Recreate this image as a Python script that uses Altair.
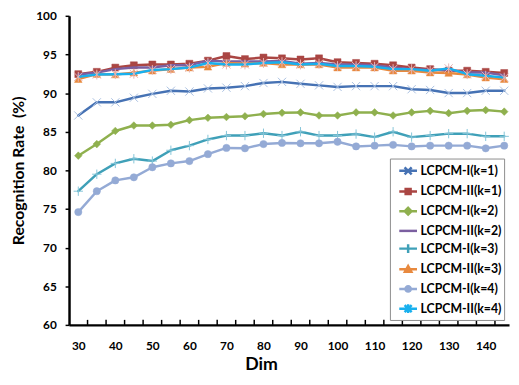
import altair as alt
import pandas as pd

dims = list(range(30, 150, 5))
names = ["LCPCM-I(k=1)", "LCPCM-II(k=1)", "LCPCM-I(k=2)", "LCPCM-II(k=2)",
         "LCPCM-I(k=3)", "LCPCM-II(k=3)", "LCPCM-I(k=4)", "LCPCM-II(k=4)"]

i_k1 = [87.1, 88.8, 88.8, 89.4, 89.9, 90.3, 90.2, 90.6, 90.7, 90.9, 91.3, 91.45,
        91.2, 91.0, 90.8, 90.9, 90.9, 90.9, 90.5, 90.4, 90.0, 90.0, 90.3, 90.3]
ii_k1 = [92.45, 92.75, 93.3, 93.6, 93.7, 93.7, 93.8, 94.2, 94.8, 94.4, 94.6, 94.5,
         94.35, 94.5, 94.0, 93.9, 93.8, 93.6, 93.3, 93.1, 92.9, 92.9, 92.75, 92.6]
i_k2 = [81.9, 83.4, 85.1, 85.8, 85.8, 85.9, 86.5, 86.8, 86.9, 87.0, 87.3, 87.45,
        87.5, 87.1, 87.1, 87.5, 87.5, 87.1, 87.5, 87.7, 87.4, 87.7, 87.8, 87.6]
ii_k2 = [92.4, 92.65, 93.1, 93.3, 93.3, 93.6, 93.6, 94.2, 94.1, 94.1, 94.1, 94.15,
         93.8, 93.9, 93.7, 93.7, 93.6, 93.3, 93.1, 93.0, 93.0, 92.65, 92.65, 92.3]
i_k3 = [77.3, 79.5, 80.9, 81.5, 81.2, 82.6, 83.2, 84.0, 84.5, 84.5, 84.8, 84.5,
        85.0, 84.5, 84.5, 84.7, 84.3, 85.0, 84.3, 84.5, 84.75, 84.75, 84.4, 84.4]
ii_k3 = [91.8, 92.45, 92.4, 92.65, 92.9, 93.1, 93.3, 93.4, 93.9, 93.8, 93.9, 93.7,
         93.7, 93.7, 93.3, 93.3, 93.3, 92.9, 92.9, 92.65, 92.6, 92.4, 92.0, 91.8]
i_k4 = [74.6, 77.3, 78.7, 79.1, 80.4, 80.9, 81.2, 82.1, 82.9, 82.85, 83.4, 83.55,
        83.5, 83.5, 83.7, 83.1, 83.2, 83.3, 83.1, 83.2, 83.2, 83.2, 82.85, 83.2]
ii_k4 = [92.1, 92.4, 92.45, 92.5, 93.0, 93.1, 93.3, 93.9, 93.7, 93.7, 93.9, 94.0,
         93.7, 93.8, 93.5, 93.5, 93.4, 93.1, 93.1, 92.9, 93.2, 92.45, 92.25, 92.0]
series_values = [i_k1, ii_k1, i_k2, ii_k2, i_k3, ii_k3, i_k4, ii_k4]

x_label_values = list(range(30, 150, 10))
x_tick_values = [d + 2.5 for d in dims[:-1]]
y_tick_values = list(range(60, 101, 5))
y_title = "Recognition Rate \u00a0(%)"
x_title = "Dim"

# styles
line_colors = ["#4672B4", "#AA4643", "#8FB04E", "#7B5FA0",
               "#3FA0B8", "#E8893E", "#94AAD5", "#18B0EE"]
marker_colors = ["#A9C0E0", "#AA4643", "#8FB04E", None,
                 "#86C5D8", "#E8893E", "#94AAD5", "#E8B4B4"]
X_PATH = "M-1,-1L1,1M-1,1L1,-1"
PLUS_PATH = "M0,-1V1M-1,0H1"
AST_PATH = "M-1,-1L1,1M-1,1L1,-1M0,-1.2V1.2"
marker_shapes = [X_PATH, "square", "diamond", None, PLUS_PATH, "triangle-up", "circle", AST_PATH]
marker_filled = [False, True, True, False, False, True, True, False]
marker_sizes = [70, 50, 60, 0, 90, 60, 55, 70]

LINE = "M-1,0H1"
legend_paths = [
    LINE + "M-0.4,-0.4L0.4,0.4M-0.4,0.4L0.4,-0.4",
    LINE + "M-0.28,-0.28H0.28V0.28H-0.28Z",
    LINE + "M0,-0.38L0.38,0L0,0.38L-0.38,0Z",
    LINE,
    LINE + "M0,-0.5V0.5",
    LINE + "M0,-0.36L0.36,0.28H-0.36Z",
    LINE + "M-0.3,0A0.3,0.3 0 1,0 0.3,0A0.3,0.3 0 1,0 -0.3,0Z",
    LINE + "M-0.4,-0.4L0.4,0.4M-0.4,0.4L0.4,-0.4M0,-0.5V0.5",
]
legend_fills = ["transparent", "#AA4643", "#8FB04E", "transparent",
                "transparent", "#E8893E", "#94AAD5", "transparent"]

rows = []
for name, vals in zip(names, series_values):
    for d, v in zip(dims, vals):
        rows.append({"dim": d, "rate": v, "series": name})
df = pd.DataFrame(rows)
ticks_df = pd.DataFrame({"pos": x_tick_values})

FONT = "Lato"
xscale = alt.Scale(domain=[27.5, 146.3], nice=False, zero=False)
yscale = alt.Scale(domain=[60, 100], nice=False, zero=False)

base = alt.Chart(df)

x_bottom = alt.Axis(orient="bottom", values=x_label_values, ticks=False, tickSize=0,
                    grid=False, domain=True, domainColor="black", domainWidth=2.5,
                    labelFont=FONT, labelFontSize=12, labelFontWeight="bold",
                    labelColor="black", labelBaseline="alphabetic", labelPadding=25,
                    title=x_title, titleFont=FONT, titleFontSize=18, titleFontWeight="bold",
                    titleColor="black", titleX=195, titleY=45, titleBaseline="alphabetic",
                    titleAlign="center", format="d")
y_left = alt.Axis(orient="left", values=y_tick_values, grid=False,
                  domain=True, domainColor="black", domainWidth=2.5,
                  ticks=True, tickSize=4, tickColor="black", tickWidth=1.5,
                  labelFont=FONT, labelFontSize=12, labelFontWeight="bold",
                  labelColor="black", labelPadding=9,
                  title=y_title, titleFont=FONT, titleFontSize=16,
                  titleFontWeight="bold", titleColor="black", titleAngle=-90,
                  titleX=-46, titleY=157, titleAlign="center", titleBaseline="alphabetic")

layers = []
# axis layer (invisible)
layers.append(base.mark_point(opacity=0).encode(
    x=alt.X("dim:Q", scale=xscale, axis=x_bottom),
    y=alt.Y("rate:Q", scale=yscale, axis=y_left)))

# inward minor ticks on the x axis
layers.append(alt.Chart(ticks_df).mark_rule(color="black", strokeWidth=1.5).encode(
    x=alt.X("pos:Q", scale=xscale, axis=None),
    y=alt.datum(60, scale=yscale, axis=None),
    y2=alt.datum(60.65)))

for i, name in enumerate(names):
    sub = base.transform_filter(alt.datum.series == name)
    layers.append(sub.mark_line(color=line_colors[i], strokeWidth=2.5,
                                strokeJoin="round", strokeCap="round").encode(
        x=alt.X("dim:Q", scale=xscale, axis=None),
        y=alt.Y("rate:Q", scale=yscale, axis=None)))
    if marker_shapes[i] is not None:
        if marker_filled[i]:
            pm = sub.mark_point(shape=marker_shapes[i], filled=True, size=marker_sizes[i],
                                color=marker_colors[i], opacity=1, stroke=marker_colors[i],
                                strokeWidth=0.5)
        else:
            pm = sub.mark_point(shape=marker_shapes[i], filled=False, size=marker_sizes[i],
                                color=marker_colors[i], opacity=1, strokeWidth=1)
        layers.append(pm.encode(
            x=alt.X("dim:Q", scale=xscale, axis=None),
            y=alt.Y("rate:Q", scale=yscale, axis=None)))

leg = alt.Legend(orient="none", legendX=326, legendY=145, title=None,
                 strokeColor="#8C8C8C", fillColor="white", padding=2,
                 symbolSize=324, symbolStrokeWidth=2.5, symbolOffset=6,
                 labelFont=FONT, labelFontSize=12.5, labelFontWeight="bold",
                 labelColor="black", labelOffset=2, rowPadding=1)

legend_layer = alt.Chart(df).transform_filter("false").mark_point(opacity=1).encode(
    shape=alt.Shape("series:N", scale=alt.Scale(domain=names, range=legend_paths), legend=leg),
    stroke=alt.Stroke("series:N", scale=alt.Scale(domain=names, range=line_colors), legend=leg),
    fill=alt.Fill("series:N", scale=alt.Scale(domain=names, range=legend_fills), legend=leg),
)
layers.append(legend_layer)

chart = alt.layer(*layers).resolve_axis(x="independent", y="independent").properties(
    width=447, height=314,
    autosize=alt.AutoSizeParams(type="none"),
    padding={"left": 62, "top": 5, "right": 2, "bottom": 50},
).configure_view(stroke=None)

chart.save("out.html", embed_options={"renderer": "svg", "actions": False})
